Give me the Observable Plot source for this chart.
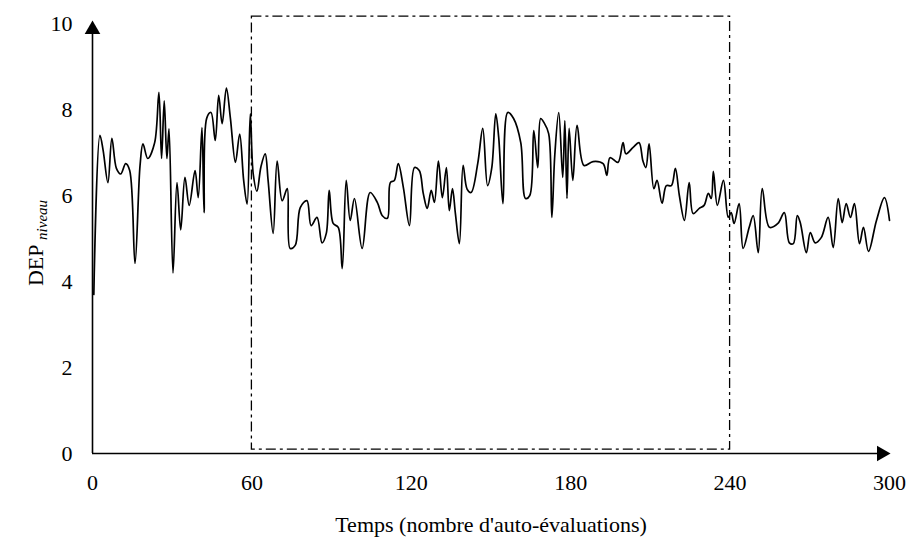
<!DOCTYPE html>
<html><head><meta charset="utf-8">
<script src="https://cdn.jsdelivr.net/npm/d3@7"></script>
<script src="https://cdn.jsdelivr.net/npm/@observablehq/plot@0.6"></script>
<style>body{margin:0;background:#fff}</style>
</head><body><div id="chart"></div>
<script>
const time = [0.5,2.8,4,5.8,7.3,9,10.6,12.5,14,16,17.9,19,20.8,23.4,25,26,27,28,28.8,30.3,31.8,33.2,34.8,36.4,38.6,39.8,41.2,42,43,44.6,46.2,47.5,48.8,50.4,51.9,53.8,55.4,56.9,58.2,59.4,60.5,61.9,63.4,65,66.1,68,69.5,71.4,73.3,74.4,76.3,78.2,80.7,82.3,84.5,86.4,88,89.1,90.6,92.5,94,95.5,97,98.6,101.5,104.5,107.2,109.1,111,112.1,113.6,115.1,117,119.3,121.2,123,124.5,126,127.5,128.7,130.2,131.7,133.2,134.3,135.5,136.6,138.1,139.5,141,142.5,145,146.9,148.7,150.3,151.8,152.9,154.5,156.3,158.5,161.2,163,164.6,166.1,167.6,168.7,169.9,171.7,172.9,174,175.5,177,177.8,178.6,179.4,180.8,182.4,185,188.4,192.2,193.6,194.8,197.8,199.7,200.8,203.5,205.7,207.2,208.3,209.5,211.3,212.5,214.4,216,217.9,219.4,220.9,222.8,224.6,226.1,228.4,230.2,231.8,232.9,233.7,235.2,237.5,239.3,240.4,241.5,243.4,244.9,247.2,248.7,250.6,252.1,254.8,258,260.4,262.3,263.8,265.3,266.4,268.7,270.2,272,274.3,276.9,278.8,280.7,282.2,283.7,285.3,286.8,288.7,290.2,292.1,295.1,298.1,300];
const level = [3.7,7.4,7.05,6.3,7.33,6.63,6.5,6.74,6.58,4.42,6.7,7.2,6.86,7.23,8.4,6.86,8.2,6.86,7.55,4.2,6.3,5.2,6.42,5.77,6.58,5.95,7.58,5.6,7.8,7.93,7.28,8.33,7.67,8.5,7.8,6.77,7.43,6.35,5.8,7.9,6.5,6.1,6.67,6.97,6.35,5.12,6.8,5.88,6.16,4.77,4.84,5.72,5.88,5.3,5.49,4.9,5.12,6.12,5.35,5.26,4.3,6.35,5.42,5.93,4.77,6.07,5.84,5.53,5.47,6.3,6.35,6.74,6.19,5.3,6.65,6.58,6.05,5.7,6.12,5.84,6.8,5.95,6.65,5.65,6.16,5.58,4.88,6.7,6.15,6.07,6.74,7.56,6.23,6.65,7.9,7.35,5.81,7.93,7.79,7.23,5.93,6.0,7.51,6.65,7.79,7.7,7.44,5.49,6.93,7.93,6.42,7.74,5.93,7.56,6.35,7.63,6.7,6.79,6.74,6.47,6.88,6.77,7.23,6.97,7.12,7.23,6.8,6.65,7.2,6.16,6.35,5.82,6.23,6.23,6.63,6.0,5.42,6.3,5.58,5.7,5.77,6.05,5.93,6.56,5.77,6.35,5.49,5.6,5.35,5.81,4.77,5.26,5.53,4.67,6.16,5.26,5.35,5.6,4.9,4.88,5.53,5.37,4.67,5.14,4.9,5.02,5.49,4.79,5.93,5.37,5.81,5.49,5.81,4.88,5.26,4.7,5.42,5.95,5.42];
const xTicks = [0, 60, 120, 180, 240, 300];
const yTicks = [0, 2, 4, 6, 8, 10];
const windowStart = 60, windowEnd = 240;
const xLabel = "Temps (nombre d'auto-évaluations)";
const yLabelMain = "DEP";
const yLabelSub = "niveau";

const data = time.map((t, i) => ({t, v: level[i]}));
const windowBox = [{x1: windowStart, x2: windowEnd, y1: 0.09, y2: 10.16}];

const serif = "'Liberation Serif', 'Times New Roman', serif";
const plot = Plot.plot({
  width: 909, height: 543,
  marginLeft: 92, marginRight: 20, marginTop: 23, marginBottom: 90,
  style: {fontFamily: serif, fontSize: "22px", color: "#000", background: "#fff", overflow: "visible"},
  x: {domain: [0, 300], ticks: xTicks, tickSize: 0, tickPadding: 21, label: xLabel, labelAnchor: "center", labelArrow: "none", labelOffset: 78},
  y: {domain: [0, 10], ticks: yTicks, tickSize: 0, tickPadding: 20, label: null},
  marks: [
    Plot.rect(windowBox, {x1: "x1", x2: "x2", y1: "y1", y2: "y2", fill: "none", stroke: "#000", strokeWidth: 1.3, strokeDasharray: "10,4,3,4"}),
    Plot.line(data, {x: "t", y: "v", stroke: "#000", strokeWidth: 1.7, curve: "catmull-rom"}),
    Plot.ruleX([0], {y1: () => 0, y2: () => 9.8, stroke: "#000", strokeWidth: 1.6}),
    Plot.ruleY([0], {x1: () => 0, x2: () => 297, stroke: "#000", strokeWidth: 1.6}),
    Plot.dot([{x: 0, y: 9.86}], {x: "x", y: "y", symbol: "triangle", r: 5.8, fill: "#000", stroke: null}),
    Plot.dot([{x: 297, y: 0}], {x: "x", y: "y", symbol: "triangle", r: 5.8, fill: "#000", stroke: null, rotate: 90})
  ]
});

// y-axis title with italic subscript, as real SVG text
const ns = "http://www.w3.org/2000/svg";
const t = document.createElementNS(ns, "text");
t.setAttribute("transform", "translate(43,243) rotate(-90)");
t.setAttribute("text-anchor", "middle");
t.setAttribute("font-family", serif);
t.setAttribute("font-size", "22");
t.setAttribute("fill", "#000");
const s1 = document.createElementNS(ns, "tspan");
s1.textContent = yLabelMain + " ";
const s2 = document.createElementNS(ns, "tspan");
s2.textContent = yLabelSub;
s2.setAttribute("font-style", "italic");
s2.setAttribute("font-size", "15");
s2.setAttribute("dy", "4");
t.appendChild(s1); t.appendChild(s2);
plot.appendChild(t);

document.getElementById("chart").appendChild(plot);
</script>
</body></html>
